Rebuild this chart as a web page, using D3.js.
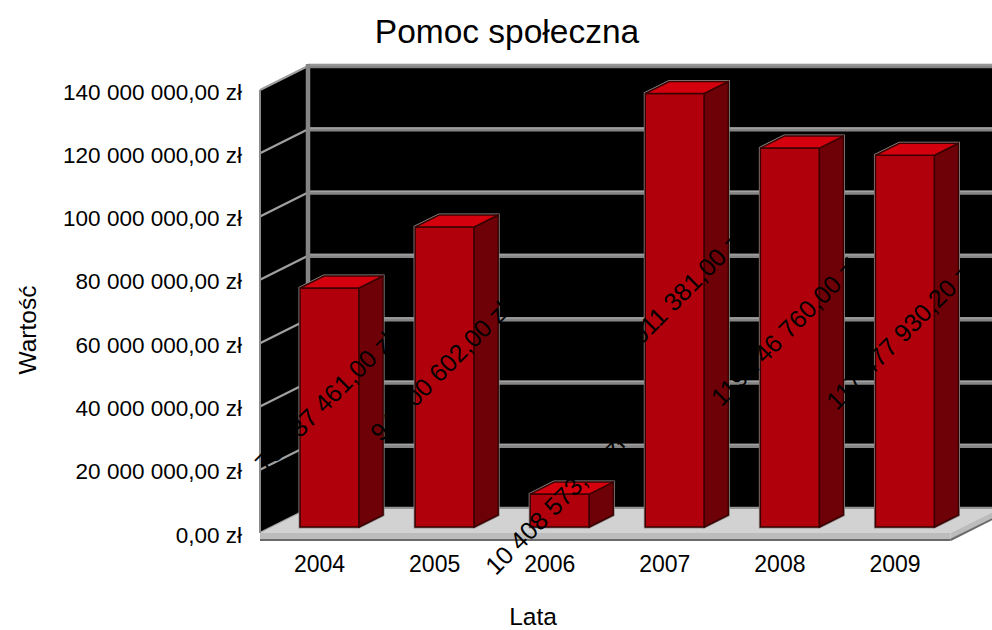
<!DOCTYPE html>
<html><head><meta charset="utf-8">
<script src="https://cdn.jsdelivr.net/npm/d3@7"></script>
<style>html,body{margin:0;padding:0;background:#fff}svg{display:block}</style>
</head><body><svg id="c" width="992" height="630"></svg>
<script>
const categories = ["2004","2005","2006","2007","2008","2009"];
const values = [75537461.00, 94800602.00, 10408573.00, 137011381.00, 119746760.00, 117477930.20];
const tickValues = [0, 20000000, 40000000, 60000000, 80000000, 100000000, 120000000, 140000000];
const title = "Pomoc społeczna";
const xTitle = "Lata";
const yTitle = "Wartość";

const loc = d3.formatLocale({decimal: ",", thousands: " ", grouping: [3], currency: ["", " zł"]});
const fmt = v => loc.format(",.2f")(v) + " zł";

const svg = d3.select("#c");
const font = "'Liberation Sans', Arial, sans-serif";

// geometry
const x0 = 260, x1 = 950.5, floorY = 533;
const DX = 48, DY = 24; // depth vector (front -> back)
const xBand = d3.scaleBand().domain(categories).range([x0, x1]).padding(0);
const hScale = d3.scaleLinear().domain([0, 140000000]).range([0, 443]);
const P = (x, v, t) => [x + DX * t, floorY - DY * t - hScale(v)];
const poly = pts => "M" + pts.map(p => p.join(",")).join("L") + "Z";

// back wall
const backTop = P(x0, 140000000, 1), backBot = P(x1, 0, 1);
svg.append("rect").attr("x", backTop[0]).attr("y", backTop[1])
  .attr("width", 992 - backTop[0] + 10).attr("height", backBot[1] - backTop[1]).attr("fill", "#000");
// left wall
svg.append("path").attr("d", poly([P(x0,0,0), P(x0,140000000,0), P(x0,140000000,1), P(x0,0,1)])).attr("fill", "#000");

// gridlines
const gB = svg.append("g");
tickValues.forEach(v => {
  const a = P(x0, v, 1), b = P(x1 + 60, v, 1);
  gB.append("line").attr("x1", a[0]).attr("y1", a[1]).attr("x2", b[0]).attr("y2", b[1])
    .attr("stroke", "#858585").attr("stroke-width", 4.5);
  gB.append("line").attr("x1", a[0]).attr("y1", a[1] - 1).attr("x2", b[0]).attr("y2", b[1] - 1)
    .attr("stroke", "#a8a8a8").attr("stroke-width", 1);
  const c = P(x0, v, 0);
  gB.append("line").attr("x1", c[0]).attr("y1", c[1]).attr("x2", a[0]).attr("y2", a[1])
    .attr("stroke", "#a0a0a0").attr("stroke-width", 2.2);
});
// wall edges
{
  const a = P(x0, 0, 1), b = P(x0, 140000000, 1);
  svg.append("line").attr("x1", a[0]).attr("y1", a[1]).attr("x2", b[0]).attr("y2", b[1] - 2)
    .attr("stroke", "#858585").attr("stroke-width", 4.5);
  const c = P(x0, 0, 0), d = P(x0, 140000000, 0);
  svg.append("line").attr("x1", c[0]).attr("y1", c[1]).attr("x2", d[0]).attr("y2", d[1])
    .attr("stroke", "#8a8a8a").attr("stroke-width", 2);
}

// floor
svg.append("path").attr("d", poly([P(x0,0,0), P(x1,0,0), P(x1,0,1), P(x1 + 60,0,1), P(x0,0,1)])).attr("fill", "#d2d2d2");
svg.append("path").attr("d", poly([P(x0,0,0), P(x1,0,0), [P(x1,0,0)[0], floorY + 7], [x0, floorY + 7]])).attr("fill", "#bcbcbc");
svg.append("line").attr("x1", x0).attr("y1", floorY + 7).attr("x2", x1).attr("y2", floorY + 7).attr("stroke", "#6a6a6a").attr("stroke-width", 2);
svg.append("path").attr("d", poly([P(x1,0,0), P(x1,0,1), [P(x1,0,1)[0], P(x1,0,1)[1] + 7], [P(x1,0,0)[0], floorY + 7]])).attr("fill", "#bcbcbc");
svg.append("line").attr("x1", P(x1,0,0)[0]).attr("y1", floorY + 7).attr("x2", P(x1,0,1)[0]).attr("y2", P(x1,0,1)[1] + 7).attr("stroke", "#6a6a6a").attr("stroke-width", 2);

// bars
const bw = xBand.bandwidth() * 0.513;
const tf = 0.25, tb = 0.75;
const bars = svg.append("g").selectAll("g").data(categories.map((c, i) => ({c, v: values[i]}))).join("g");
bars.each(function(d) {
  const g = d3.select(this);
  const cx = xBand(d.c) + xBand.bandwidth() / 2;
  const xl = cx - bw / 2, xr = cx + bw / 2;
  g.append("path").attr("d", poly([P(xl,0,tf), P(xr,0,tf), P(xr,0,tb), P(xr,d.v,tb), P(xl,d.v,tb), P(xl,d.v,tf)]))
    .attr("fill", "none").attr("stroke", "#909090").attr("stroke-width", 3);
  g.append("path").attr("d", poly([P(xl,0,tf), P(xr,0,tf), P(xr,d.v,tf), P(xl,d.v,tf)]))
    .attr("fill", "#b0000b").attr("stroke", "#3a0000").attr("stroke-width", 1.5);
  g.append("path").attr("d", poly([P(xr,0,tf), P(xr,0,tb), P(xr,d.v,tb), P(xr,d.v,tf)]))
    .attr("fill", "#6e0007").attr("stroke", "#3a0000").attr("stroke-width", 1.5);
  g.append("path").attr("d", poly([P(xl,d.v,tf), P(xr,d.v,tf), P(xr,d.v,tb), P(xl,d.v,tb)]))
    .attr("fill", "#d4000d").attr("stroke", "#3a0000").attr("stroke-width", 1.5);
});

// data labels
bars.each(function(d) {
  const cx = xBand(d.c) + xBand.bandwidth() / 2;
  const top = P(cx, d.v, tf), bot = P(cx, 0, tf);
  const lx = cx + 7, ly = (top[1] + bot[1]) / 2 - 6;
  d3.select(this).append("text")
    .attr("transform", `translate(${lx},${ly}) rotate(-45)`)
    .attr("text-anchor", "middle").attr("dominant-baseline", "central")
    .attr("font-family", font).attr("font-size", 25).attr("fill", "#000")
    .text(fmt(d.v));
});

// y axis (front edge)
const yFront = d3.scaleLinear().domain([0, 140000000]).range([floorY, floorY - 443]);
const yAxis = svg.append("g").attr("transform", `translate(${x0},0)`)
  .call(d3.axisLeft(yFront).tickValues(tickValues).tickFormat(fmt).tickSize(0).tickPadding(18));
yAxis.select(".domain").remove();
yAxis.selectAll("text").attr("font-family", font).attr("font-size", 22.5).attr("fill", "#000").attr("dy", "0.4em");

// x axis
const xAxis = svg.append("g").attr("transform", `translate(0,${floorY + 8})`)
  .call(d3.axisBottom(xBand).tickSize(0).tickPadding(15));
xAxis.select(".domain").remove();
xAxis.selectAll("text").attr("font-family", font).attr("font-size", 23).attr("fill", "#000").attr("dx", 2);

// titles
svg.append("text").attr("x", 507).attr("y", 43).attr("text-anchor", "middle")
  .attr("font-family", font).attr("font-size", 33.5).attr("fill", "#000").text(title);
svg.append("text").attr("x", 533).attr("y", 625).attr("text-anchor", "middle")
  .attr("font-family", font).attr("font-size", 24.5).attr("fill", "#000").text(xTitle);
svg.append("text").attr("transform", "translate(36,330) rotate(-90)").attr("text-anchor", "middle")
  .attr("font-family", font).attr("font-size", 24.5).attr("fill", "#000").text(yTitle);
</script></body></html>
